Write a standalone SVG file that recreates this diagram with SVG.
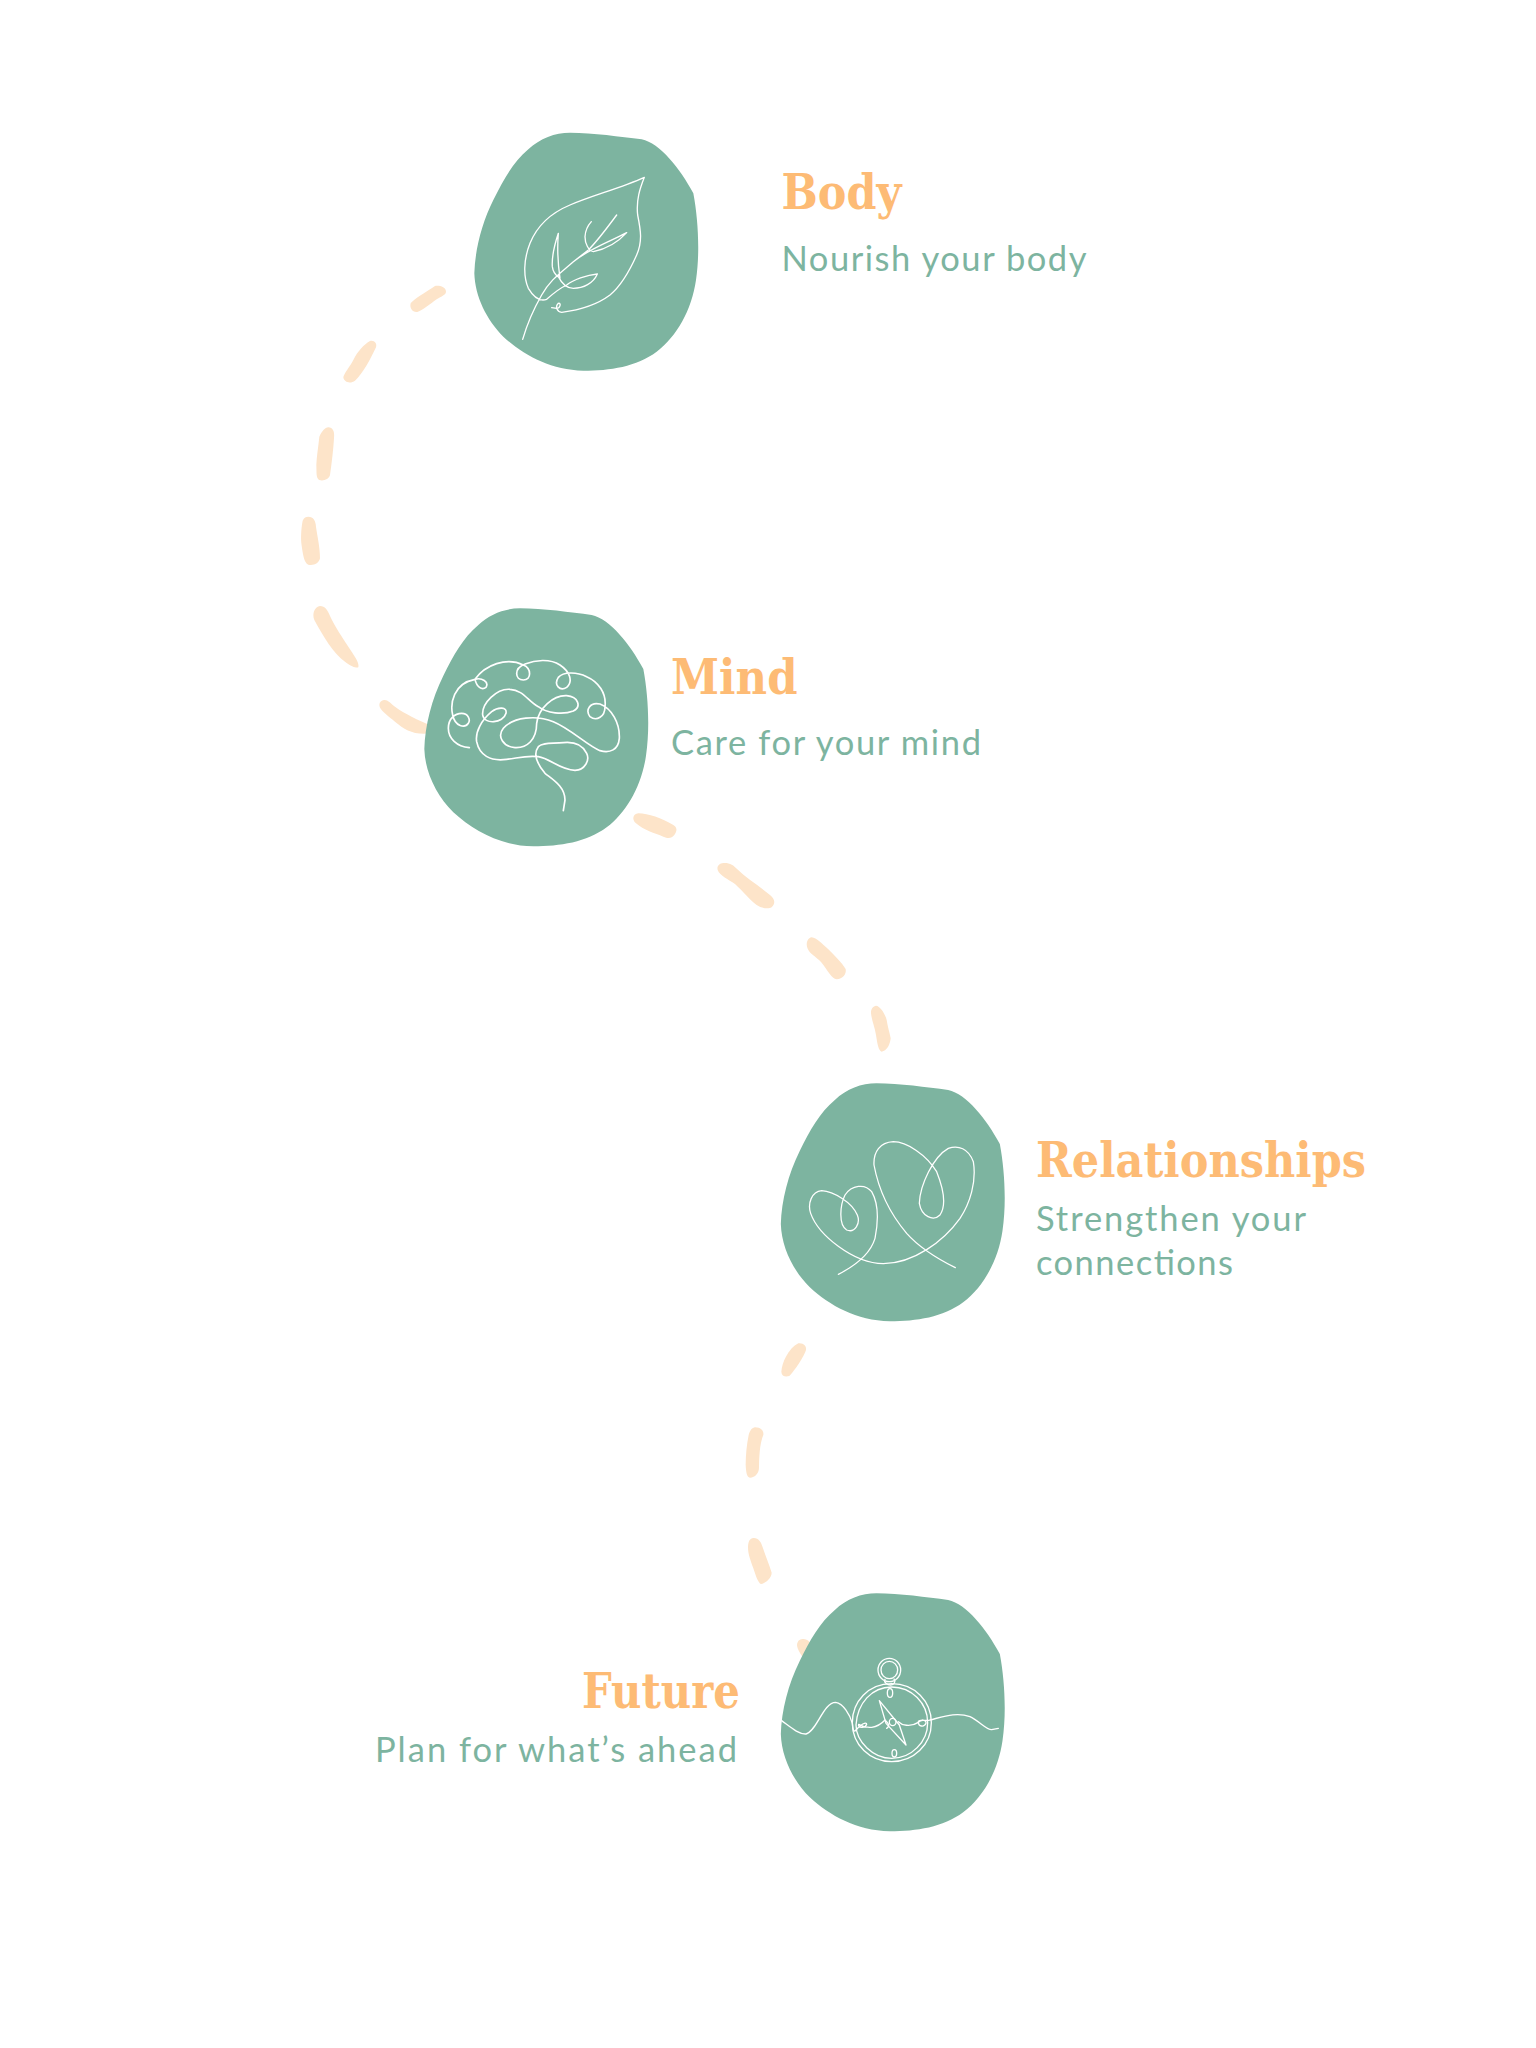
<svg xmlns="http://www.w3.org/2000/svg" width="1536" height="2048" viewBox="0 0 1536 2048">
<style>
.blob{fill:#7db4a0}
.dash{fill:#fde4c9}
.line{fill:none;stroke:#fff;stroke-linecap:round;stroke-linejoin:round}
.title{font-family:"DejaVu Serif","Liberation Serif",serif;font-weight:700;font-size:49px;fill:#fdbb75}
.sub{font-family:Lato,"Noto Sans",sans-serif;font-size:34.5px;fill:#7db4a0}
</style>
<defs>
<path id="blob" d="M330,38 C400,38 480,50 545,58 C600,70 660,145 700,220 C715,300 720,400 708,480 C695,570 650,650 590,695 C530,740 450,752 370,752 C270,750 190,705 130,650 C80,600 45,530 43,460 C45,390 65,310 100,240 C130,180 160,125 205,88 C240,55 285,38 330,38Z"/>
</defs>
<rect width="1536" height="2048" fill="#fff"/>
<g id="connectors">
<g transform="translate(280 260) scale(.33333)">
<path class="dash" d="M465,78 C480,76 498,82 498,95 C497,105 485,108 470,118 C450,132 430,150 412,156 C398,158 388,145 392,130 C400,118 440,95 465,78Z"/>
<path class="dash" d="M270,243 C283,240 292,250 288,262 C275,290 250,340 225,362 C212,372 192,368 190,352 C192,340 210,320 220,300 C232,275 250,255 270,243Z"/>
<path class="dash" d="M145,502 C158,502 165,515 162,535 C160,570 155,610 150,645 C147,658 130,664 118,660 C108,655 110,640 109,615 C110,590 115,560 118,530 C125,515 135,502 145,502Z"/>
<path class="dash" d="M85,770 C100,770 107,782 108,800 C112,830 120,860 120,895 C117,910 100,918 85,914 C72,910 68,880 64,850 C62,825 65,795 68,782 C72,772 78,770 85,770Z"/>
<path class="dash" d="M120,1038 C135,1038 143,1050 150,1068 C165,1100 185,1130 215,1175 C228,1195 238,1210 235,1222 C230,1225 215,1220 195,1205 C160,1180 130,1130 103,1080 C95,1060 105,1040 120,1038Z"/>
<path class="dash" d="M312,1320 C322,1318 330,1328 345,1340 C375,1362 410,1378 460,1400 L450,1420 C400,1425 375,1410 345,1385 C325,1368 298,1350 298,1335 C298,1326 305,1321 312,1320Z"/>
</g>
<g transform="translate(620 790) scale(.33333)">
<path class="dash" d="M55,70 C85,70 125,85 160,105 C172,113 172,122 163,135 C155,145 145,146 130,140 C105,130 70,120 48,100 C35,90 38,72 55,70Z"/>
<path class="dash" d="M310,219 C330,218 340,225 352,238 C380,265 420,290 450,315 C465,328 467,340 455,352 C445,358 425,355 410,345 C390,330 370,305 345,282 C325,268 300,258 293,240 C290,228 298,220 310,219Z"/>
<path class="dash" d="M575,442 C590,444 605,460 625,478 C645,498 665,518 677,537 C680,553 668,567 650,568 C635,565 622,540 605,518 C590,500 565,490 561,470 C558,455 565,443 575,442Z"/>
<path class="dash" d="M768,647 C780,648 795,670 800,690 C803,710 808,725 812,745 C810,765 800,783 785,785 C775,782 772,760 768,735 C764,710 755,690 753,670 C752,657 760,648 768,647Z"/>
</g>
<g transform="translate(730 1320) scale(.33333)">
<path class="dash" d="M205,70 C220,68 230,78 228,90 C222,110 195,150 178,168 C165,172 155,168 154,155 C155,130 175,85 205,70Z"/>
<path class="dash" d="M75,322 C92,322 102,332 100,345 C92,365 88,390 87,440 C88,460 75,472 60,473 C50,472 48,455 47,435 C47,405 50,375 56,345 C60,330 67,323 75,322Z"/>
<path class="dash" d="M70,654 C85,653 93,665 98,682 C107,710 118,735 125,758 C125,775 105,790 93,792 C85,790 78,770 70,745 C62,720 54,705 54,680 C55,663 60,655 70,654Z"/>
<path class="dash" d="M218,957 C230,956 238,962 245,975 L235,1030 C215,1010 202,990 201,975 C202,963 208,958 218,957Z"/>
</g>
</g>
<g id="body">
<use href="#blob" class="blob" transform="translate(460 120) scale(.33333)"/>
<g transform="translate(460 120) scale(.33333)">
<path class="line" stroke-width="4" d="M188,658 C205,600 225,560 245,525 C270,480 300,460 340,425 C390,385 450,365 500,338 C480,360 450,385 400,395 C385,392 375,370 375,350 C376,330 385,315 394,305 M470,285 C440,325 415,360 385,390 L340,425 M295,340 C285,370 275,410 277,440 C280,465 295,470 300,475 C295,440 290,400 295,340 M412,462 C380,465 340,480 320,495 C305,502 280,520 260,538 C240,545 220,530 205,505 C190,470 190,420 210,370 C230,320 270,280 330,255 C400,225 480,205 553,172 C540,205 528,240 533,285 C542,330 548,365 530,405 C510,450 480,500 450,525 C410,555 360,570 305,577 C290,575 285,560 295,550 C305,548 300,565 290,565 L275,563 M412,462 C400,490 370,505 340,505 C320,505 305,490 295,470"/>
</g>
<text class="title" x="781.5" y="208.5" textLength="120" lengthAdjust="spacingAndGlyphs">Body</text>
<text class="sub" x="781.5" y="270.5" textLength="305" lengthAdjust="spacing">Nourish your body</text>
</g>
<g id="mind">
<use href="#blob" class="blob" transform="translate(410 595.7) scale(.33333)"/>
<g transform="translate(410 600) scale(.33333)">
<path class="line" stroke-width="5" d="M178,443 C140,440 115,415 115,385 C115,355 135,340 155,340 C175,340 182,360 175,370 C165,385 135,380 128,345 C120,310 130,250 195,238 C200,260 215,272 228,262 C238,245 215,232 195,238 C225,195 290,170 340,195 C365,205 365,240 340,240 C315,240 310,205 345,192 C375,180 420,175 450,195 C480,215 490,245 470,262 C450,275 430,255 445,232 C460,215 500,215 530,230 C565,245 590,280 585,320 C585,350 560,365 540,350 C525,330 540,305 570,312 C605,325 630,370 628,415 C625,450 600,460 570,452 C530,435 480,385 430,365 C380,345 310,350 280,385 C260,410 280,440 315,443 C350,445 380,420 380,370 C385,325 430,285 470,287 C505,290 515,320 490,333 C460,345 410,340 385,320 C355,305 340,270 300,268 C260,265 215,310 218,345 C222,375 280,370 288,340 C292,320 265,320 245,335 C215,360 195,395 200,425 C208,465 240,485 290,478 C320,475 350,465 385,470 C420,475 450,510 495,511 C525,510 540,480 530,460 C515,430 490,425 460,428 C430,432 400,425 385,440 C370,460 380,490 405,520 C430,540 465,560 465,600 L460,632"/>
</g>
<text class="title" x="671" y="694" textLength="126.5" lengthAdjust="spacingAndGlyphs">Mind</text>
<text class="sub" x="671" y="754.5" textLength="310" lengthAdjust="spacing">Care for your mind</text>
</g>
<g id="relationships">
<use href="#blob" class="blob" transform="translate(766.5 1070.7) scale(.33333)"/>
<g transform="translate(770 1075) scale(.33333)">
<path class="line" stroke-width="3.8" d="M205,598 C250,575 300,540 315,490 C325,440 325,385 305,350 C285,325 245,330 225,360 C210,390 205,450 230,465 C255,475 272,445 262,420 C245,380 190,350 155,347 C125,350 112,385 122,415 C145,480 250,565 340,566 C430,565 520,500 570,430 C600,385 620,320 610,260 C595,220 565,210 535,220 C490,245 450,330 448,385 C455,425 490,440 510,420 C530,390 520,340 500,290 C470,240 410,200 370,200 C330,202 310,230 312,270 C325,340 355,410 410,475 C450,520 510,555 556,578"/>
</g>
<text class="title" x="1036" y="1177" textLength="330" lengthAdjust="spacingAndGlyphs">Relationships</text>
<text class="sub" x="1036" y="1230.5" textLength="270" lengthAdjust="spacing">Strengthen your</text>
<text class="sub" x="1036" y="1275" textLength="197" lengthAdjust="spacing">connections</text>
</g>
<g id="future">
<use href="#blob" class="blob" transform="translate(766.5 1580.7) scale(.33333)"/>
<g transform="translate(770 1585) scale(.33333)">
<path class="line" stroke-width="4" d="M35,407 C60,425 85,448 108,447 C140,440 160,352 197,352 C220,355 240,390 247,415 C248,430 250,445 258,435 C270,420 290,408 290,418 C285,432 262,428 266,418 C290,432 320,432 345,405 C355,415 362,422 350,430 M385,410 C395,420 420,428 445,412 C455,402 470,405 468,415 C462,428 445,425 445,410 C450,400 470,410 480,405 C520,395 560,380 600,395 C630,410 650,435 665,434 L685,430"/>
<path class="line" stroke-width="4" d="M365,296 C435,296 484,350 484,413 C484,480 430,530 365,530 C300,530 247,480 247,413 C247,350 295,296 365,296Z M365,306 C425,306 473,355 473,413 C473,470 425,520 365,520 C310,520 258,470 258,420 C262,355 305,306 365,306Z"/>
<ellipse class="line" stroke-width="4" cx="358" cy="255" rx="34" ry="35"/>
<ellipse class="line" stroke-width="4" cx="358" cy="255" rx="25" ry="26"/>
<path class="line" stroke-width="4" d="M345,283 C340,292 352,300 362,300 C372,300 378,290 372,282"/>
<ellipse class="line" stroke-width="4" cx="360" cy="324" rx="8" ry="13"/>
<ellipse class="line" stroke-width="4" cx="373" cy="505" rx="7" ry="11"/>
<ellipse class="line" stroke-width="4" cx="368" cy="411" rx="10" ry="11"/>
<path class="line" stroke-width="4" d="M328,347 L388,420 L408,480 L348,415Z"/>
</g>
<text class="title" x="582" y="1708" textLength="158" lengthAdjust="spacingAndGlyphs">Future</text>
<text class="sub" x="375" y="1761.5" textLength="362" lengthAdjust="spacing">Plan for what’s ahead</text>
</g>
</svg>
